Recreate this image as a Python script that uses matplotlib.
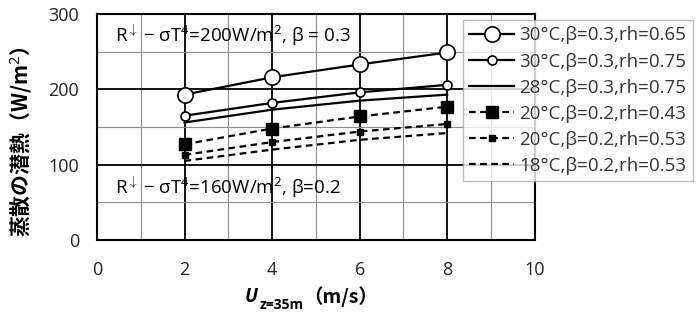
import matplotlib
matplotlib.use("Agg")
import matplotlib.pyplot as plt
from matplotlib.ticker import MultipleLocator

plt.rcParams['font.family'] = ['Open Sans', 'DejaVu Sans']
plt.rcParams['mathtext.fontset'] = 'custom'
plt.rcParams['mathtext.rm'] = 'Open Sans'
plt.rcParams['mathtext.it'] = 'Open Sans:italic'
plt.rcParams['mathtext.bf'] = 'Open Sans:bold'

# 風速 (m/s)
u = [2, 4, 6, 8]

# 蒸散の潜熱 (W/m2)
le_30_065 = [193, 216, 233, 249]
le_30_075 = [165, 182, 196, 206]
le_28_075 = [156, 173, 185, 193]
le_20_043 = [127, 148, 164, 177]
le_20_053 = [113, 130, 144, 154]
le_18_053 = [105, 120, 133, 142]

labels = ['30°C,β=0.3,rh=0.65', '30°C,β=0.3,rh=0.75', '28°C,β=0.3,rh=0.75',
          '20°C,β=0.2,rh=0.43', '20°C,β=0.2,rh=0.53', '18°C,β=0.2,rh=0.53']

fig = plt.figure(figsize=(7, 3.26), dpi=100)
ax = fig.add_axes([0.1386, 0.2638, 0.6254, 0.6932])

dash = (0, (3, 2))
ax.plot(u, le_30_065, '-', color='black', lw=1.6, marker='o', ms=11,
        mfc='white', mec='black', mew=1.2, label=labels[0], zorder=5)
ax.plot(u, le_30_075, '-', color='black', lw=1.6, marker='o', ms=6.5,
        mfc='white', mec='black', mew=1.2, label=labels[1], zorder=5)
ax.plot(u, le_28_075, '-', color='black', lw=1.6, label=labels[2], zorder=5)
ax.plot(u, le_20_043, linestyle=dash, color='black', lw=1.6, marker='s', ms=8.5,
        mfc='black', mec='black', label=labels[3], zorder=5)
ax.plot(u, le_20_053, linestyle=dash, color='black', lw=1.6, marker='s', ms=5,
        mfc='black', mec='black', label=labels[4], zorder=5)
ax.plot(u, le_18_053, linestyle=dash, color='black', lw=1.6, label=labels[5], zorder=5)

ax.set_xlim(0, 10)
ax.set_ylim(0, 300)
ax.xaxis.set_major_locator(MultipleLocator(2))
ax.xaxis.set_minor_locator(MultipleLocator(1))
ax.yaxis.set_major_locator(MultipleLocator(100))
ax.yaxis.set_minor_locator(MultipleLocator(50))
ax.grid(which='major', color='black', lw=1.3)
ax.grid(which='minor', color='#8c8c8c', lw=0.8)
ax.set_axisbelow(True)
ax.tick_params(which='both', length=0, labelsize=13, colors='#222222')
ax.tick_params(axis='x', pad=15)
ax.tick_params(axis='y', pad=13)
for s in ax.spines.values():
    s.set_linewidth(1.5)
    s.set_color('black')

ax.text(0.4, 272, r'R$^{\downarrow}$ − σT$^{4}$=200W/m$^{2}$, β = 0.3',
        fontsize=13.5, va='center', ha='left')
ax.text(0.4, 70, r'R$^{\downarrow}$ − σT$^{4}$=160W/m$^{2}$, β=0.2',
        fontsize=13.5, va='center', ha='left')

fig.text(0.03, 0.565, '蒸散の潜熱（W/m$^{2}$）', fontsize=15, fontweight='bold',
         family=['Noto Sans CJK JP', 'DejaVu Sans'], rotation=90,
         ha='center', va='center')

# x軸ラベル U_{z=35m}（m/s）
fig.text(0.35, 0.074, 'U', fontsize=13.5, fontweight='bold', style='italic',
         ha='left', va='baseline')
fig.text(0.371, 0.052, 'z=35m', fontsize=10, fontweight='bold',
         ha='left', va='baseline')
fig.text(0.433, 0.07, '（m/s）', fontsize=14, fontweight='bold',
         family=['Noto Sans CJK JP', 'DejaVu Sans'], ha='left', va='baseline')

leg = ax.legend(loc='upper left', bbox_to_anchor=(0.661, 0.939), bbox_transform=fig.transFigure,
                fontsize=13.5, frameon=True, fancybox=False, handlelength=2.4,
                labelspacing=0.43, borderpad=0.35, handletextpad=0.25, borderaxespad=0)
leg.get_frame().set_edgecolor('#aaaaaa')
leg.get_frame().set_linewidth(1.0)
for t in leg.get_texts():
    t.set_color('#333333')

fig.savefig('out.png', dpi=100)
